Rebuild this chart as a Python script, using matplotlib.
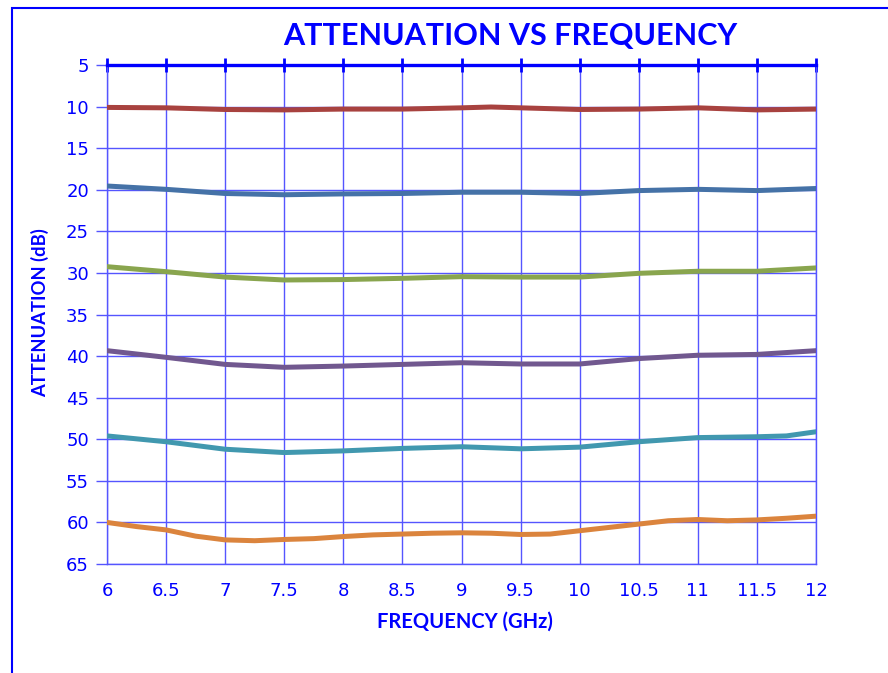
import matplotlib
matplotlib.use("Agg")
import matplotlib.pyplot as plt
from matplotlib.patches import Rectangle

# ---- data ----
freq_coarse = [6, 6.5, 7, 7.5, 8, 8.5, 9, 9.25, 9.5, 10, 10.5, 11, 11.5, 12]
att_10 = [10.1, 10.15, 10.35, 10.4, 10.3, 10.3, 10.15, 10.05, 10.15, 10.35, 10.3, 10.15, 10.4, 10.3]

freq_main = [6, 6.5, 7, 7.5, 8, 8.5, 9, 9.5, 10, 10.5, 11, 11.5, 12]
att_20 = [19.55, 19.95, 20.45, 20.6, 20.5, 20.45, 20.3, 20.3, 20.45, 20.1, 19.95, 20.1, 19.85]
att_30 = [29.25, 29.85, 30.5, 30.85, 30.8, 30.65, 30.45, 30.5, 30.5, 30.05, 29.8, 29.8, 29.4]
att_40 = [39.35, 40.15, 41.0, 41.35, 41.2, 41.0, 40.8, 40.95, 40.95, 40.3, 39.9, 39.8, 39.35]

freq_50 = [6, 6.5, 7, 7.5, 8, 8.5, 9, 9.5, 10, 10.5, 11, 11.5, 11.75, 12]
att_50 = [49.6, 50.3, 51.2, 51.6, 51.4, 51.1, 50.9, 51.15, 50.95, 50.3, 49.8, 49.7, 49.6, 49.1]

freq_60 = [6, 6.25, 6.5, 6.75, 7, 7.25, 7.5, 7.75, 8, 8.25, 8.5, 8.75, 9, 9.25,
           9.5, 9.75, 10, 10.25, 10.5, 10.75, 11, 11.25, 11.5, 11.75, 12]
att_60 = [60.0, 60.5, 60.9, 61.65, 62.1, 62.2, 62.05, 61.95, 61.7, 61.5, 61.4, 61.3, 61.25, 61.3,
          61.45, 61.4, 61.0, 60.6, 60.2, 59.8, 59.65, 59.8, 59.7, 59.5, 59.25]

x_ticks = [6, 6.5, 7, 7.5, 8, 8.5, 9, 9.5, 10, 10.5, 11, 11.5, 12]
x_tick_labels = ["6", "6.5", "7", "7.5", "8", "8.5", "9", "9.5", "10", "10.5", "11", "11.5", "12"]
y_ticks = [5, 10, 15, 20, 25, 30, 35, 40, 45, 50, 55, 60, 65]

title = "ATTENUATION VS FREQUENCY"
x_label = "FREQUENCY (GHz)"
y_label = "ATTENUATION (dB)"

series = [
    (freq_coarse, att_10, "#A8423F"),
    (freq_main, att_20, "#4572A7"),
    (freq_main, att_30, "#89A54E"),
    (freq_main, att_40, "#71588F"),
    (freq_50, att_50, "#4198AF"),
    (freq_60, att_60, "#DB843D"),
]

BLUE = "#0000FF"
GRID = "#5555FF"

fig = plt.figure(figsize=(8.88, 6.73), dpi=100)
W, H = 888, 673
ax = fig.add_axes([107 / W, 1 - 564 / H, (816 - 107) / W, (564 - 65) / H])

for xs, ys, c in series:
    ax.plot(xs, ys, color=c, lw=3.6, solid_capstyle="round", zorder=3)

ax.set_xlim(6, 12)
ax.set_ylim(65, 5)
ax.set_xticks(x_ticks)
ax.set_xticklabels(x_tick_labels)
ax.set_yticks(y_ticks)

ax.grid(True, color=GRID, lw=1.0, zorder=1)
ax.set_axisbelow(True)

for s in ["left", "right", "bottom"]:
    ax.spines[s].set_color(GRID)
    ax.spines[s].set_linewidth(1.0)
ax.spines["top"].set_color(BLUE)
ax.spines["top"].set_linewidth(2.4)
ax.spines["top"].set_zorder(4)

ax.tick_params(axis="x", top=True, bottom=False, labeltop=False, labelbottom=True,
               direction="inout", length=10, width=2, color=BLUE,
               labelsize=13, labelcolor=BLUE, pad=8)
ax.tick_params(axis="y", left=True, direction="out", length=8, width=1, color=GRID,
               labelsize=13, labelcolor=BLUE, pad=5)

fig.text(510 / W, 1 - 36 / H, title, ha="center", va="center", fontsize=22,
         fontweight="bold", color=BLUE, family=["Lato", "DejaVu Sans"])
fig.text(465 / W, 1 - 622 / H, x_label, ha="center", va="center", fontsize=14.5,
         fontweight="bold", color=BLUE, family=["Lato", "DejaVu Sans"])
fig.text(40 / W, 1 - 313 / H, y_label, ha="center", va="center", rotation=90,
         fontsize=13.2, fontweight="bold", color=BLUE, family=["Lato", "DejaVu Sans"])

# outer border (top and left visible in reference)
fig.patches.append(Rectangle((12 / W, -0.1), 1.2, (1 - 8 / H) + 0.1,
                             transform=fig.transFigure, fill=False,
                             edgecolor=BLUE, lw=1.5, zorder=0))

fig.savefig("out.png", dpi=100)
